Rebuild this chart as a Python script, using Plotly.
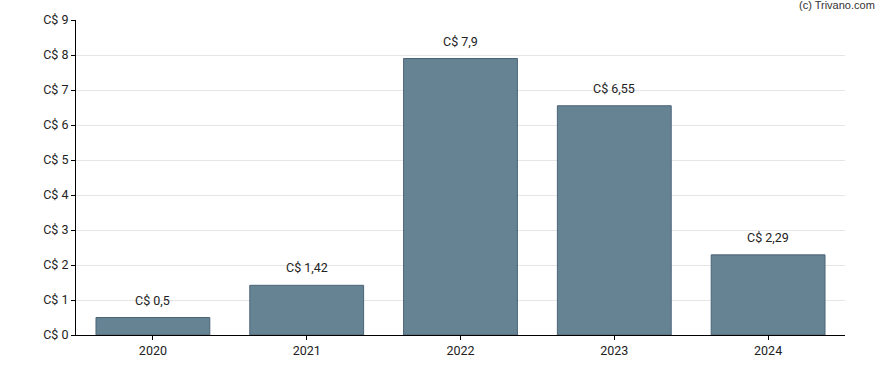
import plotly.graph_objects as go

years = ["2020", "2021", "2022", "2023", "2024"]
values = [0.5, 1.42, 7.9, 6.55, 2.29]
labels = ["C$ 0,5", "C$ 1,42", "C$ 7,9", "C$ 6,55", "C$ 2,29"]
yticks = list(range(0, 10))
yticktext = [f"C$ {v}" for v in yticks]

fig = go.Figure()
fig.add_trace(go.Bar(
    x=years, y=values,
    marker=dict(color="#668394", line=dict(color="#4b6477", width=1)),
    width=0.74,
))
annotations = [dict(text="(c) Trivano.com", xref="paper", yref="paper",
                    x=1.0 + 32/769, y=1.0 + 7/315, xanchor="right", yanchor="bottom",
                    showarrow=False, font=dict(family="Arial", size=11, color="#333333"))]
for i, (v, lab) in enumerate(zip(values, labels)):
    annotations.append(dict(x=i, y=v, xref="x", yref="y", text=lab, showarrow=False,
                            yanchor="bottom", yshift=8,
                            font=dict(family="Roboto", size=12.5, color="#222222")))
fig.update_layout(
    width=888, height=370,
    margin=dict(l=76, r=43, t=20, b=35, autoexpand=False),
    paper_bgcolor="white", plot_bgcolor="white",
    font=dict(family="Roboto", size=12.5, color="#222222"),
    showlegend=False,
    annotations=annotations,
)
fig.update_xaxes(
    type="category", range=[-0.5, 4.5],
    showline=True, linecolor="black", linewidth=1,
    ticks="outside", ticklen=4, tickcolor="black",
    showgrid=False, automargin=False,
)
fig.update_yaxes(
    range=[0, 9], tickvals=yticks, ticktext=yticktext,
    showline=True, linecolor="black", linewidth=1,
    ticks="outside", ticklen=4, tickcolor="black",
    showgrid=True, gridcolor="#e6e6e6", gridwidth=1,
    zeroline=False, automargin=False,
)
fig.write_html("out.html", config={"displayModeBar": False},
               post_script="document.body.style.margin='0';document.body.style.overflow='hidden';")
